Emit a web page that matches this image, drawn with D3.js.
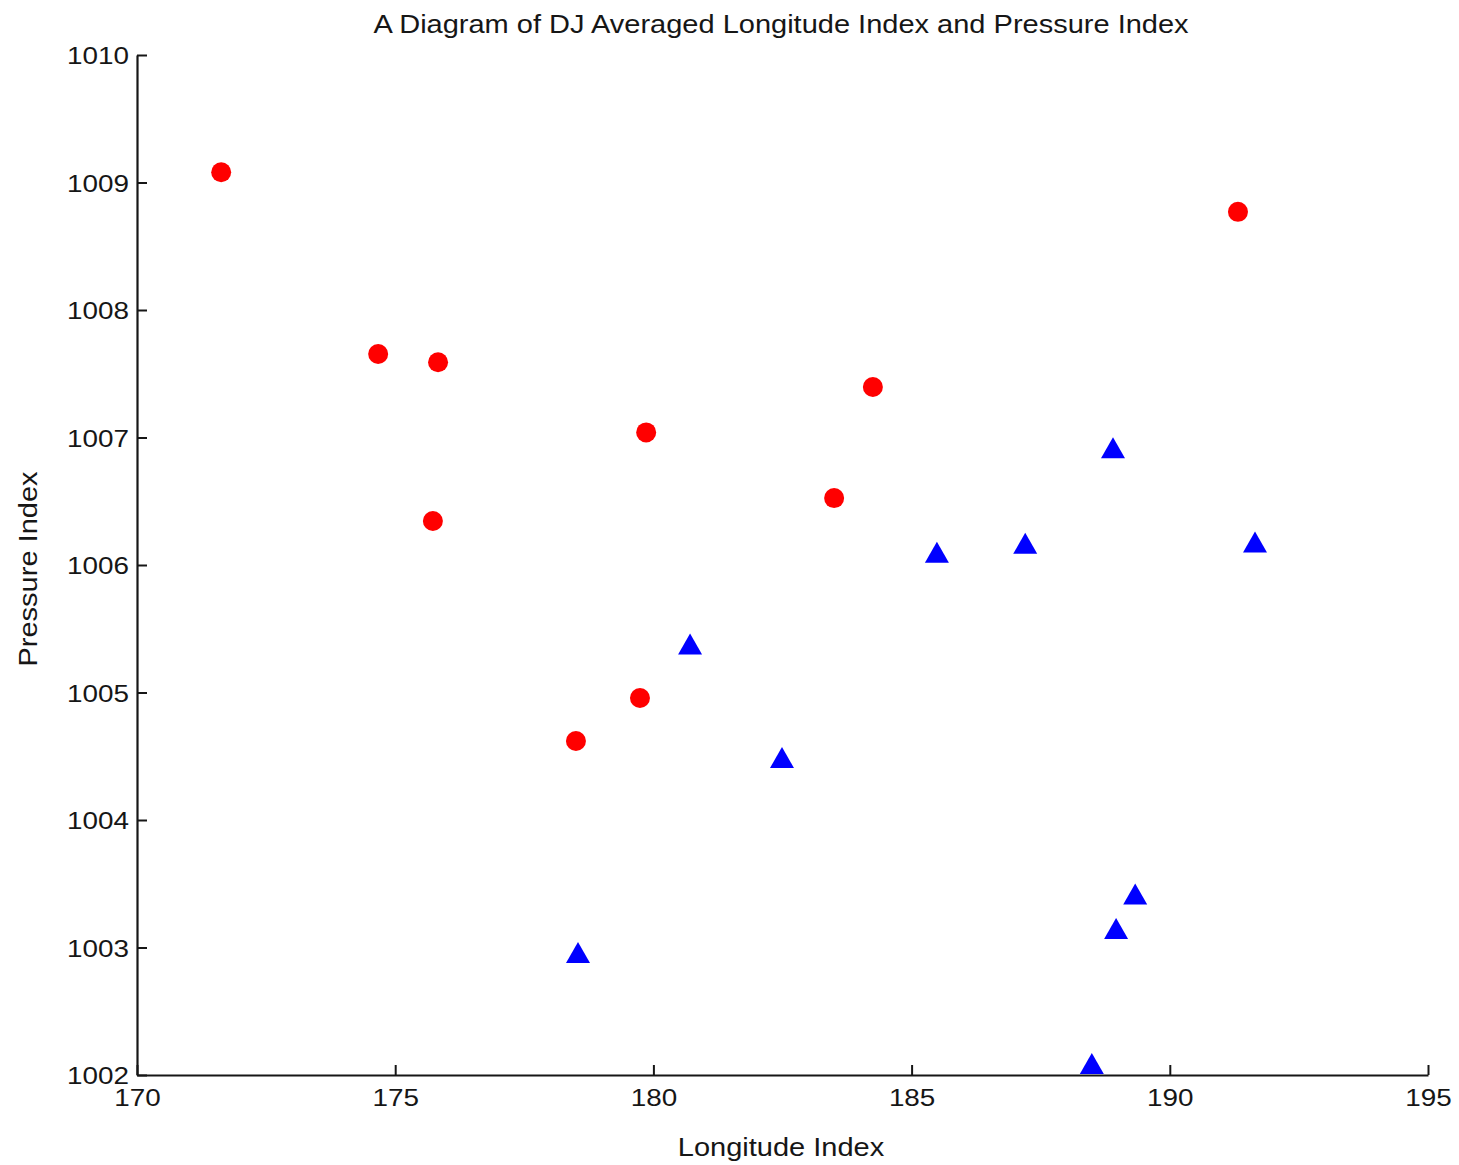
<!DOCTYPE html>
<html>
<head>
<meta charset="utf-8">
<script src="https://cdn.jsdelivr.net/npm/d3@7"></script>
<style>
html,body{margin:0;padding:0;background:#fff;}
text{font-family:"Liberation Sans",Arial,Helvetica,sans-serif;fill:#161616;}
</style>
</head>
<body>
<svg id="chart" width="1459" height="1165"></svg>
<script>
const title = "A Diagram of DJ Averaged Longitude Index and Pressure Index";
const xLabel = "Longitude Index";
const yLabel = "Pressure Index";
const xTicks = [170, 175, 180, 185, 190, 195];
const yTicks = [1002, 1003, 1004, 1005, 1006, 1007, 1008, 1009, 1010];

const redX = [171.63, 174.67, 175.83, 175.73, 179.86, 179.74, 178.50, 184.25, 183.50, 191.32];
const redY = [1009.08, 1007.655, 1007.59, 1006.345, 1007.04, 1004.957, 1004.62, 1007.396, 1006.525, 1008.77];

const blueX = [188.90, 185.49, 187.20, 191.65, 180.71, 182.49, 178.54, 189.33, 188.96, 188.49];
const blueY = [1006.92, 1006.10, 1006.17, 1006.18, 1005.38, 1004.49, 1002.96, 1003.42, 1003.15, 1002.09];

const svg = d3.select("#chart");
const m = {left:137, right:1428, top:55, bottom:1075};

const x = d3.scaleLinear().domain([170,195]).range([m.left, m.right]);
const y = d3.scaleLinear().domain([1002,1010]).range([m.bottom, m.top]);

const ink = "#161616";

// axes
const xAxis = d3.axisBottom(x).tickValues(xTicks).tickSizeInner(-10).tickSizeOuter(0).tickPadding(14).tickFormat(d3.format("d"));
const yAxis = d3.axisLeft(y).tickValues(yTicks).tickSizeInner(-10).tickSizeOuter(0).tickPadding(10).tickFormat(d3.format("d"));

const gx = svg.append("g").attr("transform", `translate(0,${m.bottom})`).call(xAxis);
const gy = svg.append("g").attr("transform", `translate(${m.left},0)`).call(yAxis);
[gx, gy].forEach(g => {
  g.select(".domain").attr("stroke", ink).attr("stroke-width", 2.2);
  g.selectAll(".tick line").attr("stroke", ink).attr("stroke-width", 2);
  g.selectAll(".tick text").attr("fill", ink).style("font-size", "24px")
    .style("font-family", '"Liberation Sans",Arial,sans-serif');
});
gx.selectAll(".tick text").attr("dy", "0.71em");
gy.selectAll(".tick text").attr("dy", "0.36em").attr("x", -8);

// title & labels
svg.append("text").attr("x", 781).attr("y", 33).attr("text-anchor", "middle")
  .style("font-size", "25px").text(title);
svg.append("text").attr("x", 781).attr("y", 1156).attr("text-anchor", "middle")
  .style("font-size", "25px").text(xLabel);
svg.append("text").attr("transform", "translate(37,569) rotate(-90)").attr("text-anchor", "middle")
  .style("font-size", "25px").text(yLabel);

// horizontally widen glyphs to match the reference's stretched type
svg.selectAll("text").each(function(){
  const len = this.getComputedTextLength();
  d3.select(this).attr("textLength", len * 1.16).attr("lengthAdjust", "spacingAndGlyphs");
});

// red circles
const red = redX.map((v,i)=>({x:v, y:redY[i]}));
svg.append("g").selectAll("circle").data(red).join("circle")
  .attr("cx", d=>x(d.x)).attr("cy", d=>y(d.y)).attr("r", 10)
  .attr("fill", "#ff0000");

// blue triangles
const blue = blueX.map((v,i)=>({x:v, y:blueY[i]}));
const tw = 12, th = 10.5;
svg.append("g").selectAll("path").data(blue).join("path")
  .attr("transform", d=>`translate(${x(d.x)},${y(d.y)})`)
  .attr("d", `M0,${-th}L${tw},${th}L${-tw},${th}Z`)
  .attr("fill", "#0000ff");
</script>
</body>
</html>
